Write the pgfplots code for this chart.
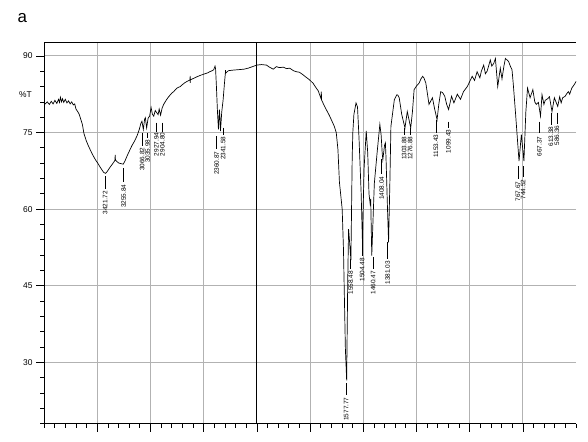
\documentclass[border=0pt]{standalone}
\usepackage{pgfplots}
\pgfplotsset{compat=1.18}
\usepackage{pgfplotstable}
\usepackage{fontspec}
\setmainfont{Liberation Sans}
\begin{document}
\pgfplotstableread{
wn T
4000 80.8
3990 80.6
3970 81.0
3950 80.5
3932 81.1
3915 80.6
3898 81.3
3880 80.7
3864 81.5
3855 80.9
3846 81.9
3836 81.0
3826 81.6
3815 80.9
3800 81.5
3785 80.8
3770 81.2
3755 80.6
3740 81.0
3725 80.4
3712 80.6
3700 79.6
3687 79.2
3670 78.6
3655 77.6
3640 76.6
3625 74.8
3605 73.5
3590 72.7
3570 71.8
3545 70.7
3518 69.7
3495 69.0
3472 68.2
3440 67.2
3422 67.0
3405 67.4
3380 68.2
3355 68.9
3335 69.5
3331 70.6
3329 69.6
3315 69.3
3295 69.0
3275 68.9
3256 68.8
3240 69.4
3220 70.4
3200 71.3
3175 72.4
3150 73.3
3125 74.4
3105 75.6
3090 76.8
3080 77.2
3067 75.6
3055 77.6
3048 77.9
3036 75.9
3022 77.8
3008 78.2
2994 79.9
2982 78.6
2969 78.2
2955 79.3
2945 79.0
2928 78.5
2918 79.6
2905 78.4
2890 79.8
2876 80.5
2850 81.4
2829 82.0
2800 82.7
2782 83.0
2751 83.7
2720 84.0
2704 84.3
2680 84.7
2657 85.0
2628 85.3
2627 86.1
2626 84.7
2625 85.3
2595 85.6
2564 85.9
2530 86.2
2487 86.5
2460 86.7
2443 86.9
2420 87.1
2405 87.3
2393 88.0
2388 87.5
2380 84.0
2370 79.0
2361 75.6
2352 79.5
2347 78.0
2342 75.3
2330 79.0
2317 81.4
2305 84.5
2296 86.6
2295 87.2
2294 86.6
2268 87.1
2230 87.2
2174 87.3
2120 87.4
2081 87.6
2040 87.9
2000 88.2
1978 88.3
1955 88.2
1941 87.8
1923 87.4
1908 87.9
1894 87.7
1875 87.8
1861 87.5
1846 87.6
1828 87.1
1814 86.9
1800 86.8
1783 86.3
1768 85.8
1752 85.3
1735 84.6
1721 83.7
1712 83.2
1698 81.6
1697 83.0
1696 81.4
1685 80.4
1674 79.5
1660 78.4
1650 77.5
1636 76.2
1627 75.0
1619 71.7
1612 65.3
1599 60.0
1593 52.2
1584 32.7
1578 26.5
1573 45.7
1569 56.1
1565 54.0
1558 50.0
1552 70.0
1549 75.0
1544 78.5
1534 80.8
1527 80.0
1520 74.0
1510 63.3
1504 53.8
1496 68.0
1486 75.3
1479 71.0
1473 63.0
1468 61.2
1465 62.0
1460 50.9
1448 65.0
1435 71.0
1422 76.6
1416 74.5
1411 71.0
1408 69.7
1400 72.5
1396 73.0
1393 70.0
1386 60.0
1381 53.5
1375 65.0
1370 76.2
1354 81.4
1342 82.4
1337 82.3
1331 81.8
1319 78.5
1304 75.9
1293 79.1
1277 75.9
1269 79.0
1261 83.4
1248 84.2
1237 84.7
1229 85.5
1221 86.0
1215 85.7
1206 84.7
1191 80.5
1175 81.8
1164 79.5
1153 77.5
1145 80.5
1136 83.0
1127 82.8
1117 82.1
1108 80.5
1099 79.5
1085 82.1
1074 80.8
1058 82.5
1043 81.5
1029 83.0
1011 84.0
988 86.0
977 85.2
965 86.9
952 85.7
945 87.0
934 88.2
926 86.5
918 87.0
911 88.0
903 89.2
896 88.0
887 88.5
879 89.5
868 84.0
856 87.6
848 85.5
839 88.0
832 89.5
817 88.9
809 88.0
801 87.3
795 84.5
785 79.1
768 69.4
757 74.6
745 69.4
736 79.0
728 83.7
716 81.8
703 83.4
694 81.0
687 80.5
677 80.9
667 78.2
660 82.4
651 80.5
645 81.3
634 81.6
625 82.0
613 79.1
602 81.8
586 80.1
577 82.0
570 80.8
563 81.8
551 82.1
544 82.6
536 83.0
530 82.5
520 83.7
508 84.4
500 85.0
}\spec
\newcommand{\pk}[5]{%
  \draw[black,line width=0.6pt] (axis cs:#1,#2) -- (axis cs:#1,#3);
  \node[rotate=90,anchor=east,inner sep=0pt,font=\fontsize{6.5}{7}\selectfont] at (axis cs:#1,#4) {#5};}
\begin{tikzpicture}
\path (0,0) rectangle (588bp,444bp);
\node[anchor=base west, font=\fontsize{17}{20}\selectfont] at (11.5bp,421bp) {a};
\begin{axis}[
  at={(41.5bp,18.3bp)}, anchor=south west,
  scale only axis, width=534.5bp, height=383.4bp,
  x dir=reverse, xmin=500, xmax=3000, ymin=18, ymax=92.7,
  axis x line*=bottom, axis y line*=left,
  axis line style={black, line width=0.8pt},
  xtick={750,1000,1250,1500,1750,2250,2500,2750},
  minor xtick={500,550,...,3000},
  extra x ticks={2000},
  extra x tick labels={},
  extra x tick style={grid=major, major grid style={black, line width=0.9pt}},
  xticklabels={},
  ytick={30,45,60,75,90},
  minor ytick={18,21,...,90},
  tick align=outside,
  major tick length=8bp, minor tick length=4bp,
  tick style={black, line width=0.7pt},
  grid=major,
  major grid style={gray!60, line width=0.8pt},
  yticklabel style={font=\fontsize{8.5}{10}\selectfont},
  /pgf/number format/assume math mode=true,
  x filter/.expression={x>2000 ? 2000+(x-2000)/2 : x},
  clip=false,
]
\addplot[black, line width=0.7pt] table[x=wn,y=T]{\spec};
\draw[black,line width=0.8pt] (rel axis cs:0,1) -- (rel axis cs:1,1);
\node[font=\fontsize{8.5}{10}\selectfont] at (axis description cs:-0.035,0.8625) {\%T};
\pk{2712.4}{66.43}{63.89}{63.60}{3421.72}
\pk{2625.8}{67.99}{65.26}{64.87}{3255.84}
\pk{2539.3}{75.0}{72.27}{72.08}{3066.82}
\pk{2513.6}{75.0}{73.83}{73.64}{3035.98}
\pk{2471.5}{76.95}{75.19}{75.0}{2927.94}
\pk{2443.4}{76.95}{75.19}{75.0}{2904.80}
\pk{2188.5}{74.22}{71.69}{71.30}{2360.87}
\pk{2158.1}{75.97}{74.61}{74.22}{2341.58}
\pk{1580.5}{25.90}{23.57}{23.18}{1577.77}
\pk{1559.5}{50.26}{48.31}{47.92}{1558.48}
\pk{1505.7}{53.76}{50.84}{50.45}{1504.48}
\pk{1452.9}{50.65}{48.31}{47.92}{1460.47}
\pk{1413.6}{69.74}{66.82}{66.43}{1408.04}
\pk{1385.5}{53.57}{50.26}{49.87}{1381.03}
\pk{1307.9}{75.97}{74.61}{74.22}{1303.88}
\pk{1279.8}{75.97}{74.61}{74.22}{1276.88}
\pk{1158.2}{77.53}{75.0}{74.61}{1153.43}
\pk{1100.2}{77.14}{75.97}{75.58}{1099.43}
\pk{772.8}{68.38}{65.84}{65.45}{767.67}
\pk{748.0}{68.38}{66.23}{65.84}{744.52}
\pk{671.8}{77.14}{75.0}{74.22}{667.37}
\pk{618.5}{78.90}{76.56}{76.17}{613.38}
\pk{590.4}{78.9}{76.75}{76.36}{586.36}
\end{axis}
\end{tikzpicture}
\end{document}
